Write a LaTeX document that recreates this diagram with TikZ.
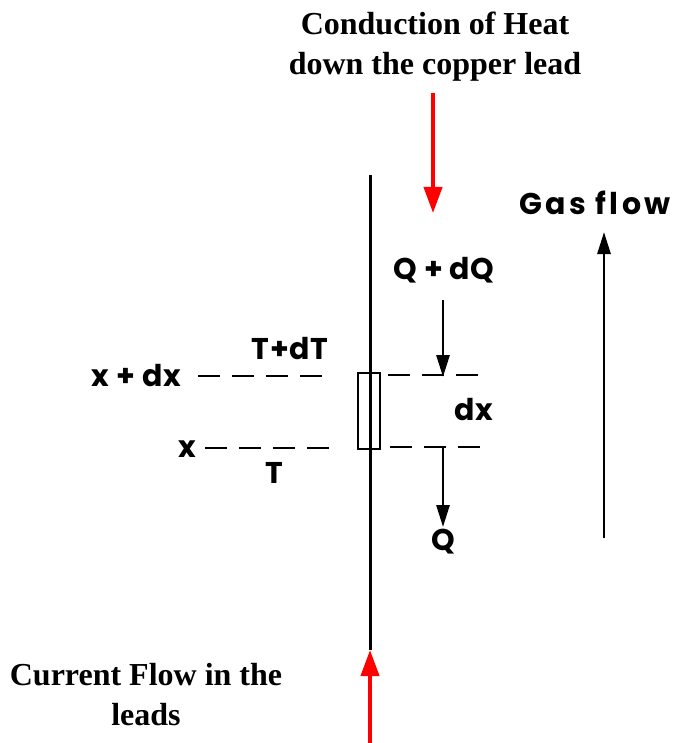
\documentclass[tikz,border=0pt]{standalone}
\usepackage{fontspec}
\setmainfont{Liberation Serif}
\newfontfamily\lblfont[LetterSpace=2]{Poppins}
\newfontfamily\gasfont[LetterSpace=11]{Poppins}
\usetikzlibrary{arrows.meta}
\begin{document}
\begin{tikzpicture}[x=1pt,y=-1pt,
  lbl/.style={font=\lblfont\bfseries\fontsize{30}{32}\selectfont, inner sep=0pt},
  gaslbl/.style={font=\gasfont\bfseries\fontsize{30}{32}\selectfont, inner sep=0pt},
  ttl/.style={font=\bfseries\fontsize{32}{40}\selectfont, align=center, inner sep=0pt},
  dsh/.style={line width=2.6pt, dash pattern=on 22pt off 12pt},
  blk/.style={line width=2.8pt, -{Triangle[length=22pt,width=13pt]}},
  redarr/.style={red, line width=4pt, -{Triangle[length=26pt,width=18pt]}}]
\useasboundingbox (0,0) rectangle (680,743);
% lead
\coordinate (leadtop) at (370,175);
\coordinate (leadbot) at (370,650);
\draw[line width=3pt] (leadtop) -- (leadbot);
\node[draw, line width=2.8pt, minimum width=22pt, minimum height=76pt, inner sep=0pt] (elem) at (369,411) {};
% dashed lines
\node[lbl, anchor=east] (xdx) at (181,376) {x + dx};
\node[lbl, anchor=east] (x) at (196,449) {x};
\coordinate (ul1) at (198,376); \coordinate (ul2) at (332,376);
\coordinate (ur1) at (388,375); \coordinate (ur2) at (488,375);
\coordinate (ll1) at (205,448); \coordinate (ll2) at (338,448);
\coordinate (lr1) at (390,447); \coordinate (lr2) at (488,447);
\draw[dsh] (ul1) -- (ul2);
\draw[dsh] (ur1) -- (ur2);
\draw[dsh] (ll1) -- (ll2);
\draw[dsh] (lr1) -- (lr2);
\node[lbl] (tdt) at (290,349) {T+dT};
\node[lbl] (t) at (274,473) {T};
% heat flux arrows
\node[lbl] (qdq) at (444,270) {Q + dQ};
\coordinate (a1s) at (443,300); \coordinate (a1e) at (443,377);
\draw[blk] (a1s) -- (a1e);
\node[lbl] (dx) at (474,410) {dx};
\coordinate (a2s) at (443,447); \coordinate (a2e) at (443,527);
\draw[blk] (a2s) -- (a2e);
\node[lbl] (q) at (443,542) {Q};
% gas flow
\node[gaslbl] (gas) at (595,203) {Gas flow};
\coordinate (gs) at (604,538); \coordinate (ge) at (604,232);
\draw[blk] (gs) -- (ge);
% red arrows
\node[ttl] (cond) at (435,47) {Conduction of Heat\\down the copper lead};
\coordinate (r1s) at (433,93); \coordinate (r1e) at (433,213);
\draw[redarr] (r1s) -- (r1e);
\node[ttl] (curr) at (146,695) {Current Flow in the\\leads};
\coordinate (r2s) at (370,743); \coordinate (r2e) at (370,650);
\draw[redarr] (r2s) -- (r2e);
\end{tikzpicture}
\end{document}
